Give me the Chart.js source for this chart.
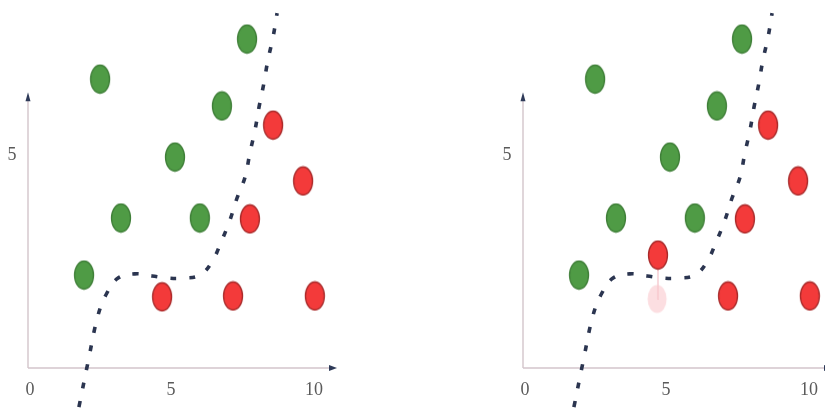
<!DOCTYPE html>
<html>
<head>
<meta charset="utf-8">
<script src="https://cdn.jsdelivr.net/npm/chart.js@4"></script>
<style>
    html, body { margin: 0; padding: 0; background: #fff; overflow: hidden; width: 825px; height: 412px; }
    .painel { position: absolute; top: 0; width: 340px; height: 412px; }
</style>
</head>
<body>
<div class="painel" style="left:0"><canvas id="graficoA" width="340" height="412"></canvas></div>
<div class="painel" style="left:495px"><canvas id="graficoB" width="340" height="412"></canvas></div>
<script>
// dados
const ticksX = [0, 5, 10];
const ticksY = [5];

const verdes = [[7.66, 7.72], [2.52, 6.78], [6.78, 6.15], [5.14, 4.95], [3.25, 3.52], [6.01, 3.52], [1.96, 2.18]];
const vermelhosA = [[8.57, 5.70], [9.62, 4.39], [7.76, 3.50], [4.69, 1.67], [7.17, 1.69], [10.03, 1.69]];
const vermelhosB = [[8.57, 5.70], [9.62, 4.39], [7.76, 3.50], [4.72, 2.65], [7.17, 1.69], [10.03, 1.69]];
const apagado = [[4.69, 1.62]];
const rastro = [[4.69, 1.62], [4.72, 2.65]];

const curvaX = [1.78, 2.10, 2.45, 2.76, 3.15, 3.74, 4.34, 4.90, 5.42, 6.01, 6.43, 6.78, 7.06, 7.31, 7.59, 7.76, 7.94, 8.08, 8.25, 8.39, 8.57, 8.71];
const curvaY = [-0.92, 0.14, 1.24, 1.76, 2.11, 2.21, 2.16, 2.11, 2.11, 2.18, 2.49, 3.00, 3.47, 3.99, 4.48, 5.05, 5.59, 6.13, 6.69, 7.23, 7.77, 8.33];

const fimEixoX = 10.7;
const fimEixoY = 6.4;

function pares(lista) {
    return lista.map(p => ({ x: p[0], y: p[1] }));
}

// bolinha oval (pointStyle)
function elipse(cor, borda) {
    let c = document.createElement('canvas');
    c.width = 22; c.height = 31;
    let g = c.getContext('2d');
    g.fillStyle = cor;
    g.strokeStyle = borda;
    g.lineWidth = 1.3;
    g.beginPath();
    g.ellipse(11, 15.5, 9.5, 14, 0, 0, Math.PI * 2);
    g.fill();
    if (borda) g.stroke();
    return c;
}

const bolaVerde = elipse('#4f9b45', '#3f7f38');
const bolaVermelha = elipse('#f33a3a', '#a82a2a');
const bolaApagada = elipse('rgba(250,200,205,0.6)', null);

// eixos com setas e rotulos
const eixos = {
    id: 'eixos',
    beforeDatasetsDraw(chart) {
        const { ctx, scales: { x, y } } = chart;
        let x0 = x.getPixelForValue(0), y0 = y.getPixelForValue(0);
        let xf = x.getPixelForValue(fimEixoX), yf = y.getPixelForValue(fimEixoY);
        ctx.save();
        ctx.strokeStyle = '#d3c5cb';
        ctx.lineWidth = 1.4;
        ctx.beginPath();
        ctx.moveTo(x0, y0); ctx.lineTo(xf, y0);
        ctx.moveTo(x0, y0); ctx.lineTo(x0, yf);
        ctx.stroke();

        ctx.fillStyle = '#2e3a58';
        ctx.beginPath();
        ctx.moveTo(xf + 3, y0); ctx.lineTo(xf - 5, y0 - 3); ctx.lineTo(xf - 5, y0 + 3);
        ctx.fill();
        ctx.beginPath();
        ctx.moveTo(x0, yf - 3); ctx.lineTo(x0 - 2.5, yf + 6); ctx.lineTo(x0 + 2.5, yf + 6);
        ctx.fill();

        ctx.font = '18px "Liberation Serif", serif';
        ctx.fillStyle = '#5a5a5a';
        ctx.textAlign = 'center';
        ctx.textBaseline = 'middle';
        ticksX.forEach(v => ctx.fillText(String(v), x.getPixelForValue(v) + (v === 0 ? 2 : 0), y0 + 22));
        ticksY.forEach(v => ctx.fillText(String(v), x0 - 16, y.getPixelForValue(v)));
        ctx.restore();
    }
};

function montar(id, vermelhos, extra) {
    let conjuntos = [
        { data: pares(verdes), pointStyle: bolaVerde, pointRadius: 14 },
        { data: pares(vermelhos), pointStyle: bolaVermelha, pointRadius: 14 }
    ];
    if (extra) {
        conjuntos.push({ data: pares(apagado), pointStyle: bolaApagada, pointRadius: 14 });
        conjuntos.push({
            type: 'line', data: pares(rastro), showLine: true, pointRadius: 0,
            borderColor: 'rgba(240,170,180,0.45)', borderWidth: 2
        });
    }
    conjuntos.push({
        type: 'line',
        data: curvaX.map((v, i) => ({ x: v, y: curvaY[i] })),
        showLine: true,
        pointRadius: 0,
        borderColor: '#2b3550',
        borderWidth: 3.6,
        borderDash: [6, 13],
        tension: 0.4,
        clip: false
    });

    new Chart(document.getElementById(id), {
        type: 'scatter',
        data: { datasets: conjuntos },
        options: {
            responsive: false,
            animation: false,
            layout: { padding: 0, autoPadding: false },
            plugins: { legend: { display: false }, tooltip: { enabled: false } },
            scales: {
                x: { type: 'linear', min: -0.979, max: 10.91, display: false },
                y: { type: 'linear', min: -1.033, max: 8.638, display: false }
            }
        },
        plugins: [eixos]
    });
}

montar('graficoA', vermelhosA, false);
montar('graficoB', vermelhosB, true);
</script>
</body>
</html>
